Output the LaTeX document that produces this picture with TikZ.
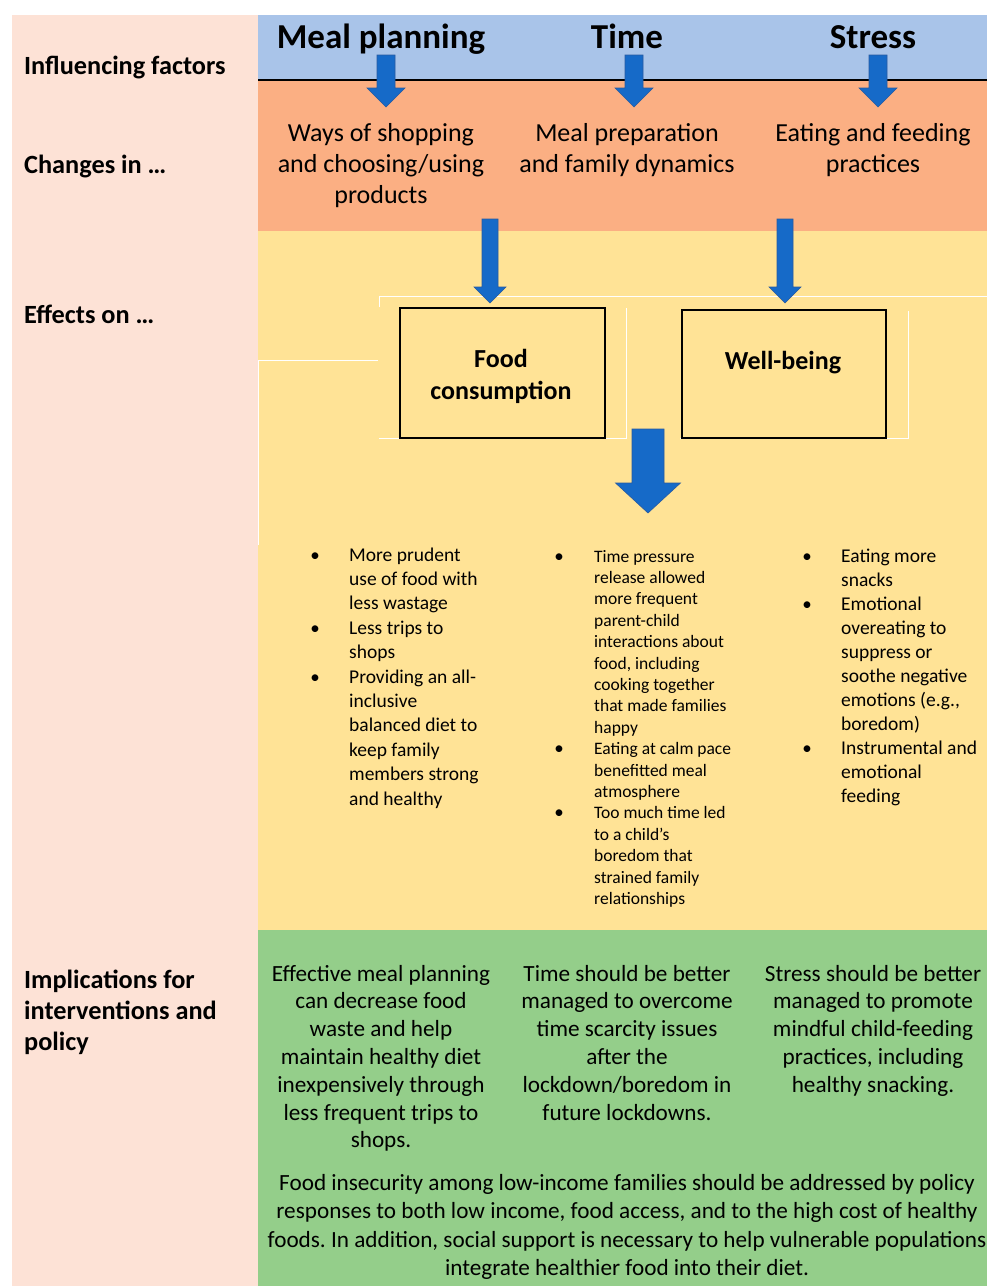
\documentclass[tikz,border=0pt]{standalone}
\usepackage{fontspec}
\setmainfont{Carlito}
\frenchspacing
\definecolor{pinkbg}{RGB}{253,226,214}
\definecolor{bluebg}{RGB}{169,196,233}
\definecolor{orangebg}{RGB}{251,175,131}
\definecolor{yellowbg}{RGB}{255,227,150}
\definecolor{greenbg}{RGB}{148,206,138}
\definecolor{arrowblue}{RGB}{22,106,200}
\definecolor{arrowedge}{RGB}{40,90,160}
\newcommand{\myblockarrow}[6]{%
  \filldraw[barrow] ({#1-#5/2},#2) -- ({#1+#5/2},#2) -- ({#1+#5/2},#3) -- ({#1+#6/2},#3)
    -- (#1,#4) -- ({#1-#6/2},#3) -- ({#1-#5/2},#3) -- cycle;}
\begin{document}
\begin{tikzpicture}[x=1pt,y=-1pt,
  lab/.style={anchor=base west, inner sep=0pt, font=\fontsize{26.3}{31}\selectfont\bfseries},
  headtxt/.style={anchor=base, inner sep=0pt, font=\fontsize{35}{40}\selectfont\bfseries},
  chg/.style={anchor=base, inner sep=0pt, font=\fontsize{26}{31}\selectfont},
  effbox/.style={draw=black, line width=1.6pt, fill=yellowbg, inner sep=0pt, anchor=north west},
  boxtxt/.style={anchor=base, inner sep=0pt, font=\fontsize{26}{31}\selectfont\bfseries},
  bl/.style={anchor=base west, inner sep=0pt, font=\fontsize{19.5}{24}\selectfont},
  bm/.style={anchor=base west, inner sep=0pt, font=\fontsize{17.5}{21}\selectfont},
  bullet/.style={anchor=base, inner sep=0pt, font=\fontsize{19}{24}\selectfont},
  gr/.style={anchor=base, inner sep=0pt, font=\fontsize{23.2}{28}\selectfont},
  wline/.style={draw=white, line width=1pt},
  barrow/.style={fill=arrowblue, draw=arrowedge, line width=0.6pt}
]
\useasboundingbox (0,0) rectangle (987,1286);
\fill[white] (0,0) rectangle (987,1286);
% bands
\fill[pinkbg] (12,15) rectangle (258,1286);
\fill[bluebg] (258,15) rectangle (987,80);
\fill[orangebg] (258,80) rectangle (987,231);
\fill[yellowbg] (258,231) rectangle (987,930);
\fill[greenbg] (258,930) rectangle (987,1286);
\draw[line width=1.8pt] (258,80) -- (987,80);
% faint white table borders
\draw[wline] (379,307) -- (379,296) -- (987,296);
\draw[wline] (258,545) -- (258,360) -- (378,360);
\draw[wline] (379,438) -- (626,438) -- (626,308);
\draw[wline] (680,438) -- (908,438) -- (908,311);
% effect boxes
\node[effbox, minimum width=205, minimum height=130] (food) at (399,307) {};
\node[effbox, minimum width=204, minimum height=128] (well) at (681,309) {};
% block arrows
\myblockarrow{386}{55}{88}{107}{18}{38}
\myblockarrow{634}{55}{88}{107}{18}{38}
\myblockarrow{878}{55}{88}{107}{18}{38}
\myblockarrow{490}{219}{287}{303}{16}{32}
\myblockarrow{785}{219}{287}{303}{16}{32}
\myblockarrow{648}{429}{483}{513}{32}{65}
% left labels
\node[lab] (l1) at (24,74) {Influencing factors};
\node[lab] (l2) at (24,173) {Changes in …};
\node[lab] (l3) at (24,323) {Effects on …};
\node[lab] (l4a) at (24,988) {Implications for};
\node[lab] (l4b) at (24,1019) {interventions and};
\node[lab] (l4c) at (24,1050) {policy};
% headings
\node[headtxt] (h1) at (381,48) {Meal planning};
\node[headtxt] (h2) at (627,48) {Time};
\node[headtxt] (h3) at (873,48) {Stress};
% changes
\node[chg] (c1a) at (381,141) {Ways of shopping};
\node[chg] (c1b) at (381,172) {and choosing/using};
\node[chg] (c1c) at (381,203) {products};
\node[chg] (c2a) at (627,141) {Meal preparation};
\node[chg] (c2b) at (627,172) {and family dynamics};
\node[chg] (c3a) at (873,141) {Eating and feeding};
\node[chg] (c3b) at (873,172) {practices};
% box texts
\node[boxtxt] (fc1) at (501,367) {Food};
\node[boxtxt] (fc2) at (501,399) {consumption};
\node[boxtxt] (wb1) at (783,369) {Well-being};
% bullets left
\foreach \t [count=\i from 0] in {More prudent, use of food with, less wastage, Less trips to, shops, Providing an all-, inclusive, balanced diet to, keep family, members strong, and healthy}
  \node[bl] (lb\i) at (349,{561+\i*24.4}) {\t};
\foreach \i in {0,3,5}
  \node[bullet] (lbb\i) at (315,{561+\i*24.4}) {•};
% bullets middle
\foreach \t [count=\i from 0] in {Time pressure, release allowed, more frequent, parent-child, interactions about, {food, including}, cooking together, that made families, happy, Eating at calm pace, benefitted meal, atmosphere, Too much time led, to a child’s, boredom that, strained family, relationships}
  \node[bm] (mb\i) at (594,{562+\i*21.4}) {\t};
\foreach \i in {0,9,12}
  \node[bullet] (mbb\i) at (559,{562+\i*21.4}) {•};
% bullets right
\foreach \t [count=\i from 0] in {Eating more, snacks, Emotional, overeating to, suppress or, soothe negative, {emotions (e.g.,}, boredom), Instrumental and, emotional, feeding}
  \node[bl] (rb\i) at (841,{562+\i*24}) {\t};
\foreach \i in {0,2,8}
  \node[bullet] (rbb\i) at (807,{562+\i*24}) {•};
% implications
\foreach \t [count=\i from 0] in {Effective meal planning, can decrease food, waste and help, maintain healthy diet, inexpensively through, less frequent trips to, shops.}
  \node[gr] (g1\i) at (381,{981+\i*27.8}) {\t};
\foreach \t [count=\i from 0] in {Time should be better, managed to overcome, time scarcity issues, after the, lockdown/boredom in, future lockdowns.}
  \node[gr] (g2\i) at (627,{981+\i*27.8}) {\t};
\foreach \t [count=\i from 0] in {Stress should be better, managed to promote, mindful child-feeding, {practices, including}, healthy snacking.}
  \node[gr] (g3\i) at (873,{981+\i*27.8}) {\t};
\node[gr] (p1) at (627,1190) {Food insecurity among low-income families should be addressed by policy};
\node[gr] (p2) at (627,1218) {responses to both low income, food access, and to the high cost of healthy};
\node[gr] (p3) at (627,1247) {foods. In addition, social support is necessary to help vulnerable populations};
\node[gr] (p4) at (627,1275) {integrate healthier food into their diet.};
\end{tikzpicture}
\end{document}
